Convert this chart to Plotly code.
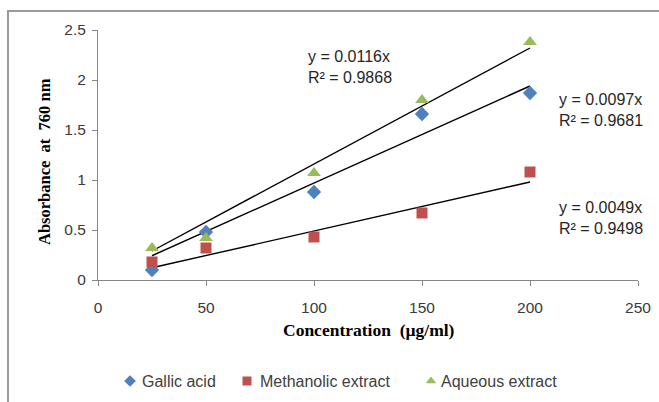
import plotly.graph_objects as go

conc = [25, 50, 100, 150, 200]
gallic = [0.10, 0.48, 0.88, 1.66, 1.87]
methanolic = [0.18, 0.32, 0.43, 0.67, 1.08]
aqueous = [0.32, 0.42, 1.07, 1.80, 2.38]

series_names = ["Gallic acid", "Methanolic extract", "Aqueous extract"]
slopes = [0.0097, 0.0049, 0.0116]
r2 = [0.9681, 0.9498, 0.9868]
x_ticks = [0, 50, 100, 150, 200, 250]
y_ticks = [0, 0.5, 1, 1.5, 2, 2.5]
y_ticktext = ["0", "0.5", "1", "1.5", "2", "2.5"]

W, H = 659, 402
PL, PR, PT, PB = 98, 638, 30, 280  # plot-area pixel box

colors = ["#4F81BD", "#C0504D", "#9BBB59"]
symbols = ["diamond", "square", "triangle-up"]
msizes = [11, 11, 12]

fig = go.Figure()

# trend lines (through origin), drawn from first to last concentration
for s in slopes:
    xs = [conc[0], conc[-1]]
    fig.add_trace(go.Scatter(x=xs, y=[s * v for v in xs], mode="lines",
                             line=dict(color="#000000", width=1.4), showlegend=False,
                             hoverinfo="skip", xaxis="x", yaxis="y"))

for name, vals, c, sym, sz in zip(series_names, [gallic, methanolic, aqueous], colors, symbols, msizes):
    fig.add_trace(go.Scatter(x=conc, y=vals, mode="markers", name=name, showlegend=False,
                             marker=dict(symbol=sym, color=c, size=sz, line=dict(width=0)),
                             xaxis="x", yaxis="y"))

# legend (custom, on a full-figure pixel overlay axis)
leg_marker_x = [130, 247, 431]
leg_text_x = [140, 258, 439]
leg_y = 381
for name, c, sym, mx in zip(series_names, colors, symbols, leg_marker_x):
    fig.add_trace(go.Scatter(x=[mx], y=[leg_y], mode="markers", showlegend=False, hoverinfo="skip",
                             marker=dict(symbol=sym, color=c, size=9, line=dict(width=0)),
                             xaxis="x2", yaxis="y2"))

tick_font = dict(family="Liberation Sans, Arial, sans-serif", size=15.5, color="#3A3A3A")
fig.update_layout(
    width=W, height=H,
    margin=dict(l=0, r=0, t=0, b=0, pad=0, autoexpand=False),
    paper_bgcolor="white", plot_bgcolor="rgba(0,0,0,0)",
    showlegend=False,
    xaxis=dict(domain=[PL / W, PR / W], range=[0, 250], tickvals=x_ticks, showgrid=False,
               zeroline=False, showline=True, linecolor="#868686", linewidth=1,
               ticks="outside", ticklen=5, tickcolor="#868686", tickfont=tick_font,
               ticklabelstandoff=8, anchor="y", automargin=False),
    yaxis=dict(domain=[(H - PB) / H, (H - PT) / H], range=[0, 2.5], tickvals=y_ticks,
               ticktext=y_ticktext, showgrid=False,
               zeroline=False, showline=True, linecolor="#868686", linewidth=1,
               ticks="outside", ticklen=5, tickcolor="#868686", tickfont=tick_font,
               ticklabelstandoff=3, anchor="x", automargin=False),
    xaxis2=dict(domain=[0, 1], range=[0, W], visible=False, anchor="y2", fixedrange=True,
                automargin=False),
    yaxis2=dict(domain=[0, 1], range=[H, 0], visible=False, anchor="x2", fixedrange=True,
                automargin=False),
)

title_font_x = dict(family="Liberation Serif, Times New Roman, serif", size=17.5, color="#000000")
title_font_y = dict(family="Liberation Serif, Times New Roman, serif", size=16.5, color="#000000")
fig.add_annotation(xref="x2", yref="y2", x=369, y=330, text="<b>Concentration  (µg/ml)</b>",
                   showarrow=False, font=title_font_x, xanchor="center", yanchor="middle")
fig.add_annotation(xref="x2", yref="y2", x=44, y=162, text="<b>Absorbance  at  760 nm</b>",
                   showarrow=False, font=title_font_y, textangle=-90, xanchor="center", yanchor="middle")

eq_font = dict(family="Liberation Sans, Arial, sans-serif", size=16, color="#262626")
eq_pos = [(557, 110), (557, 218), (306, 67)]
for s, r, (xp, yp) in zip(slopes, r2, eq_pos):
    fig.add_annotation(xref="x2", yref="y2", x=xp, y=yp,
                       text=f"y = {s}x<br>R² = {r}", align="left", showarrow=False,
                       font=eq_font, xanchor="left", yanchor="middle")

leg_font = dict(family="Liberation Sans, Arial, sans-serif", size=16, color="#404040")
for name, tx in zip(series_names, leg_text_x):
    fig.add_annotation(xref="x2", yref="y2", x=tx, y=leg_y, text=name, showarrow=False,
                       font=leg_font, xanchor="left", yanchor="middle")

# chart-area frame: a rectangle whose right and bottom edges fall outside the page
fig.add_shape(type="rect", xref="paper", yref="paper", x0=8 / W, x1=1.02, y0=-0.02, y1=1 - 11 / H,
              line=dict(color="#9A9A9A", width=2), fillcolor="rgba(0,0,0,0)", layer="above")

fig.write_html("out.html", config={"displayModeBar": False},
               post_script="document.body.style.margin='0';document.body.style.overflow='hidden';"
                           "document.documentElement.style.overflow='hidden';")
